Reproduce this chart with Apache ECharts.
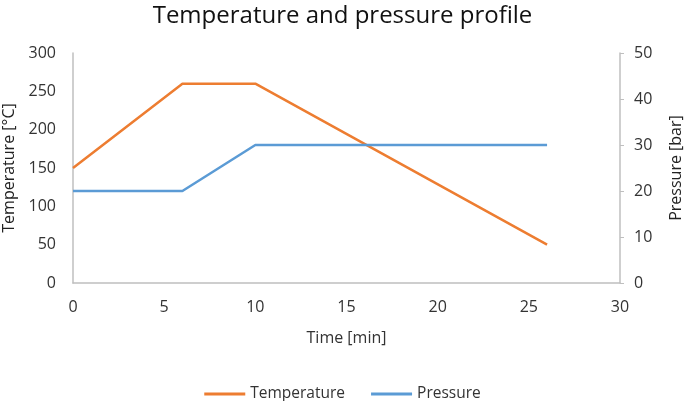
<!DOCTYPE html>
<html><head><meta charset="utf-8">
<script src="https://cdn.jsdelivr.net/npm/echarts@6/dist/echarts.min.js"></script>
<style>html,body{margin:0;padding:0;background:#fff}#c{width:685px;height:401px}</style>
</head><body><div id="c"></div>
<script>
const timeTemp = [0, 6, 10, 26];
const temperature = [150, 260, 260, 50];
const timePress = [0, 6, 10, 26];
const pressure = [20, 20, 30, 30];
const FONT = 'Open Sans';
const chart = echarts.init(document.getElementById('c'));
chart.setOption({
  animation: false,
  textStyle: {fontFamily: FONT},
  title: {text: 'Temperature and pressure profile', left: 'center', top: -1,
    textStyle: {fontFamily: FONT, fontSize: 24, fontWeight: 'normal', color: '#111'}},
  legend: {top: 381, itemWidth: 41, itemHeight: 3, itemGap: 26, icon: 'rect',
    textStyle: {fontFamily: FONT, fontSize: 15.5, color: '#333'},
    data: ['Temperature', 'Pressure']},
  grid: {left: 73, right: 65, top: 53, bottom: 118, containLabel: false, outerBoundsMode: 'none'},
  xAxis: {type: 'value', min: 0, max: 30, interval: 5,
    name: 'Time [min]', nameLocation: 'middle', nameGap: 47,
    nameTextStyle: {fontFamily: FONT, fontSize: 16, color: '#333'},
    axisLine: {show: true, lineStyle: {color: '#bfbfbf', width: 1.5}},
    axisTick: {show: false}, splitLine: {show: false},
    axisLabel: {fontFamily: FONT, fontSize: 16, color: '#333', margin: 16}},
  yAxis: [
    {type: 'value', min: 0, max: 300, interval: 50,
     name: 'Temperature [°C]', nameLocation: 'middle', nameGap: 50, nameRotate: 90,
     nameTextStyle: {fontFamily: FONT, fontSize: 16, color: '#222'},
     axisLine: {show: true, lineStyle: {color: '#bfbfbf', width: 1.5}},
     axisTick: {show: false}, splitLine: {show: false},
     axisLabel: {fontFamily: FONT, fontSize: 16, color: '#333', margin: 17}},
    {type: 'value', min: 0, max: 50, interval: 10, position: 'right',
     name: 'Pressure [bar]', nameLocation: 'middle', nameGap: 48, nameRotate: 90,
     nameTextStyle: {fontFamily: FONT, fontSize: 16, color: '#222'},
     axisLine: {show: true, lineStyle: {color: '#bfbfbf', width: 1.5}},
     axisTick: {show: true, length: 4, lineStyle: {color: '#bfbfbf'}}, splitLine: {show: false},
     axisLabel: {fontFamily: FONT, fontSize: 16, color: '#333', margin: 14}}
  ],
  series: [
    {name: 'Temperature', type: 'line', yAxisIndex: 0, symbol: 'none',
     lineStyle: {color: '#ED7D31', width: 2.5}, itemStyle: {color: '#ED7D31'},
     data: timeTemp.map((t, i) => [t, temperature[i]])},
    {name: 'Pressure', type: 'line', yAxisIndex: 1, symbol: 'none',
     lineStyle: {color: '#5B9BD5', width: 2.5}, itemStyle: {color: '#5B9BD5'},
     data: timePress.map((t, i) => [t, pressure[i]])}
  ]
});
</script></body></html>
